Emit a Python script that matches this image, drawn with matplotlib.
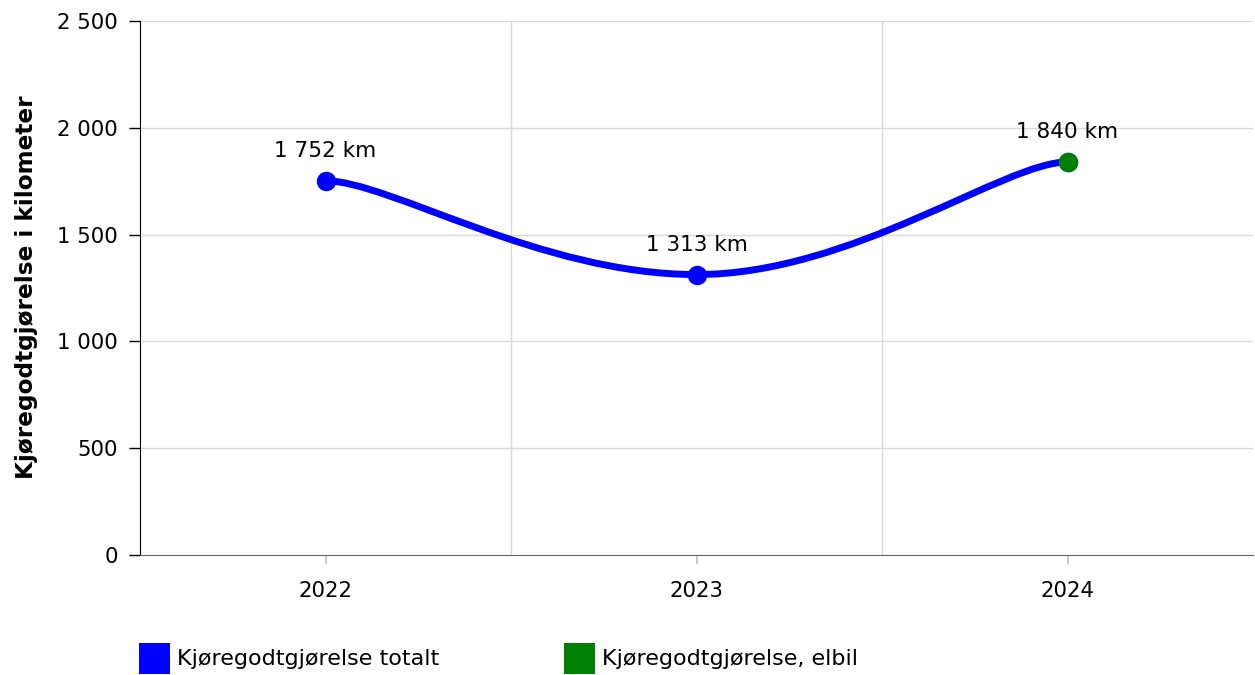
import matplotlib
matplotlib.use("Agg")
import matplotlib.pyplot as plt
from matplotlib.path import Path
from matplotlib.patches import PathPatch, Rectangle
import numpy as np

years = ["2022", "2023", "2024"]
total_km = [1752, 1313, 1840]
elbil_years = ["2024"]
elbil_km = [1840]
y_ticks = [0, 500, 1000, 1500, 2000, 2500]
y_tick_labels = ["0", "500", "1 000", "1 500", "2 000", "2 500"]
ylabel = "Kjøregodtgjørelse i kilometer"
series_names = ["Kjøregodtgjørelse totalt", "Kjøregodtgjørelse, elbil"]
blue = "#0000ff"
green = "#008000"

plt.rcParams['font.family'] = ['DejaVu Sans']

W, H = 1255, 675
fig = plt.figure(figsize=(W / 100, H / 100), dpi=100)
ax = fig.add_axes([140 / W, 1 - 555 / H, (1253 - 140) / W, (555 - 21) / H])

x = np.arange(len(years), dtype=float)
y = np.array(total_km, dtype=float)


def spline_path(xs, ys, mid_frac=0.42, end_frac=0.17):
    """Smooth curve with flattened tangents at extremes (Highcharts-like)."""
    n = len(xs)
    slopes = np.zeros(n)
    for i in range(1, n - 1):
        s0 = ys[i] - ys[i - 1]
        s1 = ys[i + 1] - ys[i]
        slopes[i] = 0.0 if s0 * s1 <= 0 else 0.5 * (s0 + s1)
    verts = [(xs[0], ys[0])]
    codes = [Path.MOVETO]
    for i in range(1, n):
        dx = xs[i] - xs[i - 1]
        f0 = end_frac if i - 1 == 0 else mid_frac
        f1 = end_frac if i == n - 1 else mid_frac
        c1 = (xs[i - 1] + f0 * dx, ys[i - 1] + slopes[i - 1] * f0 * dx)
        c2 = (xs[i] - f1 * dx, ys[i] - slopes[i] * f1 * dx)
        verts += [c1, c2, (xs[i], ys[i])]
        codes += [Path.CURVE4] * 3
    return Path(verts, codes)


ax.add_patch(PathPatch(spline_path(x, y), facecolor="none", edgecolor=blue,
                       lw=5.0, capstyle="round", zorder=3))
ax.plot(x, y, "o", color=blue, ms=13, zorder=4)
ex = np.array([years.index(v) for v in elbil_years], dtype=float)
ax.plot(ex, elbil_km, "o", color=green, ms=13, zorder=5)

for xi, yi in zip(x, y):
    ax.annotate(f"{int(yi):,} km".replace(",", " "), (xi, yi), xytext=(0, 21.5),
                textcoords="offset points", ha="center", va="center", fontsize=15.5,
                color="black", zorder=6)

ax.set_xlim(-0.5, len(years) - 0.5)
ax.set_ylim(0, 2500)
ax.set_yticks(y_ticks)
ax.set_yticklabels(y_tick_labels, fontsize=15.3)
ax.set_xticks(x)
ax.set_xticklabels(years, fontsize=15.3)
ax.set_xticks(np.arange(len(years) - 1) + 0.5, minor=True)

ax.grid(axis="y", color="#d9d9d9", lw=1)
ax.grid(axis="x", which="minor", color="#d9d9d9", lw=1)
ax.set_axisbelow(True)
for s in ["top", "right"]:
    ax.spines[s].set_visible(False)
ax.spines["left"].set_color("black")
ax.spines["bottom"].set_color("#666666")
ax.tick_params(axis="y", length=8, width=1, color="black", pad=8)
ax.tick_params(axis="x", which="major", length=6.5, width=1.2, color="#c0c0c0", pad=12)
ax.tick_params(axis="x", which="minor", length=0)

fig.text(27 / W, 1 - 287 / H, ylabel, rotation=90, ha="center", va="center",
         fontsize=16.7, fontweight="bold")

# legend
for i, (name, col) in enumerate(zip(series_names, [blue, green])):
    x0 = [139, 564][i]
    fig.patches.append(Rectangle((x0 / W, 1 - 674 / H), 31 / W, 31 / H,
                                 transform=fig.transFigure, facecolor=col,
                                 edgecolor="none"))
    fig.text((x0 + 38) / W, 1 - 659 / H, name, ha="left", va="center", fontsize=16)

fig.savefig("out.png", dpi=100)
